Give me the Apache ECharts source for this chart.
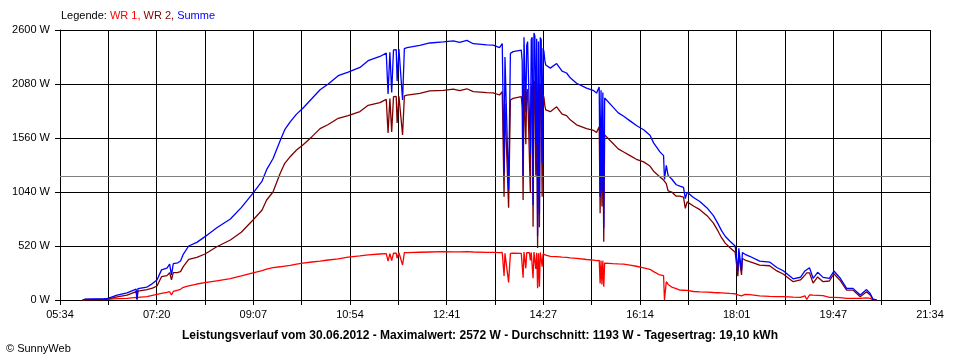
<!DOCTYPE html>
<html>
<head>
<meta charset="utf-8">
<script src="https://cdn.jsdelivr.net/npm/echarts@6/dist/echarts.min.js"></script>
<style>html,body{margin:0;padding:0;background:#fff}#c{width:960px;height:360px}</style>
</head>
<body>
<div id="c"></div>
<script>
const tickLabels = ["05:34","07:20","09:07","10:54","12:41","14:27","16:14","18:01","19:47","21:34"];
const average = 1193;
const times = ["05:59","06:02","06:13","06:23","06:26","06:28","06:37","06:48","06:58","06:59","07:00","07:10","07:16","07:21","07:26","07:32","07:35","07:37","07:39","07:44","07:47","07:50","07:56","08:05","08:14","08:27","08:42","08:54","09:07","09:17","09:22","09:29","09:37","09:42","09:48","09:55","10:02","10:12","10:21","10:30","10:41","10:52","11:05","11:14","11:27","11:34","11:36","11:38","11:40","11:42","11:45","11:46","11:48","11:52","11:54","11:57","12:11","12:22","12:37","12:48","12:55","13:03","13:10","13:25","13:32","13:39","13:41","13:42","13:44","13:45","13:49","13:51","13:54","14:03","14:04","14:05","14:06","14:07","14:08","14:09","14:10","14:11","14:12","14:13","14:14","14:15","14:16","14:17","14:18","14:19","14:20","14:21","14:22","14:23","14:24","14:25","14:26","14:27","14:28","14:29","14:30","14:31","14:35","14:42","14:48","14:53","14:57","15:04","15:15","15:23","15:26","15:29","15:30","15:31","15:32","15:33","15:34","15:35","15:37","15:44","15:50","15:56","16:03","16:10","16:18","16:25","16:29","16:36","16:40","16:41","16:43","16:45","16:49","16:54","16:58","17:02","17:04","17:06","17:13","17:20","17:28","17:35","17:40","17:44","17:48","17:53","17:59","18:02","18:03","18:06","18:07","18:10","18:15","18:26","18:37","18:45","18:52","19:03","19:11","19:16","19:18","19:21","19:25","19:30","19:36","19:43","19:48","19:55","20:02","20:09","20:17","20:24","20:28","20:31","20:35"];
const wr1 = [0,3,4,5,6,10,14,16,26,5,26,32,45,55,64,74,80,48,82,95,103,122,135,154,167,185,205,232,262,282,298,311,320,327,333,345,355,366,375,385,397,413,425,434,443,446,375,446,380,450,452,404,455,337,456,456,460,462,465,464,463,465,462,459,458,456,456,458,231,449,170,449,450,449,449,215,462,460,305,455,458,456,455,380,458,460,209,462,460,300,455,113,450,128,458,455,321,445,440,435,433,425,420,417,413,411,405,400,390,383,380,382,160,380,150,378,128,355,353,350,347,345,335,325,310,296,273,241,235,0,176,150,125,110,96,94,93,92,82,78,75,72,70,68,66,63,60,50,57,40,56,55,52,40,35,33,32,28,26,40,5,48,46,45,42,26,26,22,16,16,16,20,15,3,0];
const wr2 = [0,5,6,7,8,16,30,48,80,5,85,100,115,135,224,235,263,193,263,265,273,321,392,411,443,513,578,652,770,867,963,1040,1220,1316,1380,1444,1493,1573,1650,1690,1750,1775,1815,1875,1900,1932,1608,1940,1618,1958,1960,1704,1962,1589,1965,1972,1990,2013,2018,2030,2016,2034,2006,1997,1995,1974,1958,2006,995,1890,889,1926,1942,1958,1855,963,2070,2060,1500,2000,2030,2040,2020,1030,2050,2070,706,2110,2080,1200,2060,500,2040,700,2070,2050,995,1980,1950,1870,1830,1825,1813,1860,1790,1775,1735,1687,1650,1633,1612,1669,835,1640,900,1620,562,1590,1573,1510,1455,1425,1390,1355,1330,1290,1240,1185,1155,1160,1120,1050,1040,1000,1000,990,883,945,905,870,812,740,665,600,548,505,460,230,440,241,400,385,369,335,330,280,250,176,193,240,262,262,163,222,176,183,253,187,96,96,32,80,48,6,0];
const summe = [0,8,10,12,14,30,46,68,105,10,110,125,158,193,290,308,345,240,350,358,376,440,520,555,610,695,780,890,1030,1145,1255,1360,1535,1640,1715,1790,1846,1940,2025,2080,2160,2195,2240,2305,2345,2378,1983,2386,1998,2408,2412,2108,2417,1926,2421,2430,2452,2475,2485,2496,2480,2500,2468,2456,2454,2430,2414,2470,1226,2340,1059,2375,2392,2407,2304,1190,2530,2520,1805,2455,2488,2496,2475,1410,2508,2530,915,2572,2540,1500,2515,613,2490,828,2528,2505,1316,2425,2391,2305,2263,2250,2233,2277,2203,2186,2140,2087,2040,2016,1992,2051,995,2020,1050,1998,690,1945,1926,1860,1802,1770,1725,1680,1640,1586,1513,1426,1390,1160,1296,1200,1165,1110,1096,1084,976,1037,987,948,887,812,735,668,614,568,520,280,497,281,456,440,421,375,365,313,282,204,219,280,267,310,209,267,218,209,279,209,112,112,48,100,63,9,0];

const START = 5*60+34; // 05:34 in minutes
function secs(hhmm){const p=hhmm.split(':');return ((+p[0])*60+(+p[1])-START)*60;}
function pairs(vals){return times.map((t,i)=>[secs(t),vals[i]]);}

const FONT = 'Liberation Sans';
const chart = echarts.init(document.getElementById('c'), null, {renderer:'canvas'});
const lineBase = {type:'line', showSymbol:false, symbol:'none', animation:false, silent:true};
chart.setOption({
  animation:false,
  backgroundColor:'#ffffff',
  title:[
    {text:'{k|Legende: }{a|WR 1, }{b|WR 2, }{c|Summe}', left:61, top:10, padding:0,
     textStyle:{fontFamily:FONT, fontSize:11, fontWeight:'normal',
       rich:{k:{color:'#000',fontFamily:FONT,fontSize:11},a:{color:'#ff0000',fontFamily:FONT,fontSize:11},b:{color:'#800000',fontFamily:FONT,fontSize:11},c:{color:'#0000ff',fontFamily:FONT,fontSize:11}}}},
    {text:'Leistungsverlauf vom 30.06.2012 - Maximalwert: 2572 W - Durchschnitt: 1193 W - Tagesertrag: 19,10 kWh', left:'center', top:330, padding:0,
     textStyle:{fontFamily:FONT, fontSize:12, fontWeight:'bold', color:'#000'}},
    {text:'© SunnyWeb', left:6, top:343, padding:0,
     textStyle:{fontFamily:FONT, fontSize:11, fontWeight:'normal', color:'#000'}}
  ],
  grid:{left:60, right:30, top:30, bottom:60, containLabel:false},
  xAxis:{type:'value', min:0, max:57600, interval:3200,
    axisLine:{show:true, lineStyle:{color:'#000', width:1}},
    axisTick:{show:true, length:5, lineStyle:{color:'#000'}},
    axisLabel:{show:true, margin:9, color:'#000', fontFamily:FONT, fontSize:11, showMinLabel:true, showMaxLabel:true,
      formatter:function(v){const i=Math.round(v/3200);return i%2===0?tickLabels[i/2]:'';}},
    splitLine:{show:true, lineStyle:{color:'#000', width:1}}},
  yAxis:{type:'value', min:0, max:2600, interval:520,
    axisLine:{show:true, lineStyle:{color:'#000', width:1}},
    axisTick:{show:true, length:5, lineStyle:{color:'#000'}},
    axisLabel:{margin:10, color:'#000', fontFamily:FONT, fontSize:11, formatter:function(v){return v+' W';}},
    splitLine:{show:true, lineStyle:{color:'#000', width:1}}},
  series:[
    Object.assign({}, lineBase, {name:'WR 1', data:pairs(wr1), lineStyle:{color:'#ff0000', width:1.3}, itemStyle:{color:'#ff0000'}, z:2}),
    Object.assign({}, lineBase, {name:'WR 2', data:pairs(wr2), lineStyle:{color:'#800000', width:1.3}, itemStyle:{color:'#800000'}, z:3}),
    Object.assign({}, lineBase, {name:'Summe', data:pairs(summe), lineStyle:{color:'#0000ff', width:1.3}, itemStyle:{color:'#0000ff'}, z:4,
      markLine:{silent:true, symbol:'none', label:{show:false}, animation:false,
        lineStyle:{color:'#808080', width:1, type:'solid'}, data:[{yAxis:average}]}})
  ]
});
</script>
</body>
</html>
